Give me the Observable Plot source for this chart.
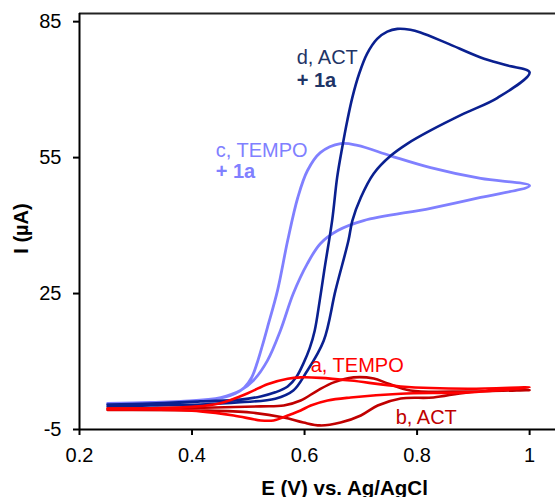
<!DOCTYPE html>
<html>
<head>
<meta charset="utf-8">
<script src="https://cdn.jsdelivr.net/npm/d3@7"></script>
<script src="https://cdn.jsdelivr.net/npm/@observablehq/plot@0.6"></script>
<style>
  html, body { margin: 0; padding: 0; background: #fff; }
  #chart { width: 555px; height: 497px; overflow: hidden; }
</style>
</head>
<body>
<div id="chart"></div>
<script>
// Axis ticks
const xTicks = [0.2, 0.4, 0.6, 0.8, 1];
const xTickLabels = ["0.2", "0.4", "0.6", "0.8", "1"];
const yTicks = [-5, 25, 55, 85];
const yTickLabels = ["-5", "25", "55", "85"];
const xDomain = [0.2, 1.046];
const yDomain = [-5, 86.8];

// c, TEMPO + 1a (forward then reverse scan)
const cX = [0.25,0.326,0.415,0.456,0.477,0.493,0.506,0.516,0.525,0.534,0.552,0.570,0.588,0.605,0.628,0.664,0.694,0.753,0.824,0.913,1.0,
            0.913,0.824,0.705,0.659,0.628,0.605,0.580,0.557,0.534,0.509,0.486,0.451,0.38,0.25];
const cY = [0.74,0.96,1.4,2.06,2.94,4.27,6.47,9.78,13.5,17.5,25.7,36.7,46.2,52.1,56.1,58.1,57.7,55.4,52.8,50.4,48.8,
            46.2,43.8,41.1,38.9,36.0,31.6,25.0,16.8,10.2,5.8,3.6,2.06,1.18,0.5];

// d, ACT + 1a
const dX = [0.25,0.326,0.415,0.486,0.522,0.548,0.570,0.586,0.598,0.609,0.618,0.627,0.635,0.649,0.658,0.667,0.676,0.685,0.697,0.711,0.729,0.747,0.765,0.788,0.806,0.854,0.913,0.961,1.0,
            0.943,0.883,0.824,0.783,0.753,0.723,0.700,0.685,0.678,0.655,0.634,0.602,0.580,0.548,0.486,0.415,0.326,0.25];
const dY = [0.5,0.7,1.2,1.6,2.3,3.2,4.5,6.7,9.6,12.9,16.8,23.5,30.1,41.1,50.7,57.3,63.2,68.3,73.5,77.9,81.2,82.8,83.4,83.2,82.6,80.2,77.1,75.3,73.8,
            68.2,64.7,61.0,58.1,55.4,51.5,46.2,41.1,36.7,25.7,14.6,7.4,3.6,1.8,1.0,0.5,0.3,0.1];

// b, ACT
const bX = [0.25,0.415,0.522,0.563,0.593,0.623,0.652,0.687,0.723,0.748,0.788,0.890,1.0,
            0.890,0.829,0.771,0.730,0.700,0.664,0.628,0.598,0.563,0.504,0.415,0.25];
const bY = [-0.4,-0.2,0.1,0.3,1.4,3.6,5.4,6.5,6.25,5.15,3.6,3.4,3.7,
            3.2,2.06,1.84,0.29,-1.9,-3.46,-4.1,-3.46,-2.35,-1.25,-0.8,-0.7];

// a, TEMPO
const aX = [0.25,0.33,0.40,0.45,0.499,0.534,0.570,0.593,0.628,0.682,0.771,0.890,1.0,
            0.890,0.771,0.682,0.641,0.611,0.593,0.570,0.545,0.522,0.474,0.415,0.33,0.25];
const aY = [-0.4,-0.3,0.0,0.8,3.0,5.0,6.2,6.5,6.4,5.8,4.5,4.0,4.3,
            3.2,2.9,2.06,1.4,0.29,-0.8,-1.9,-3.0,-3.0,-1.9,-1.0,-0.6,-0.6];

// Annotation labels
const labelText   = ["d, ACT", "+ 1a", "c, TEMPO", "+ 1a", "a, TEMPO", "b, ACT"];
const labelX      = [0.586, 0.586, 0.442, 0.442, 0.611, 0.762];
const labelY      = [75.7, 70.6, 55.2, 50.4, 7.6, -3.7];
const labelColor  = ["#1f3466", "#1f3466", "#8080ff", "#8080ff", "#ff0000", "#c00000"];
const labelBold   = [false, true, false, true, false, false];

const seriesColor = {a: "#ff0000", b: "#c00000", c: "#8080ff", d: "#0a2090"};

const toRows = (X, Y) => X.map((x, i) => ({x, y: Y[i]}));
const labels = labelText.map((t, i) => ({t, x: labelX[i], y: labelY[i], c: labelColor[i], b: labelBold[i]}));

const chart = Plot.plot({
  width: 555,
  height: 497,
  marginLeft: 79,
  marginRight: 0,
  marginTop: 13,
  marginBottom: 68,
  style: {fontFamily: "'Liberation Sans', Arial, sans-serif", fontSize: "20px", color: "#000", background: "#fff", overflow: "visible"},
  x: {domain: xDomain},
  y: {domain: yDomain},
  marks: [
    Plot.line(toRows(cX, cY), {x: "x", y: "y", stroke: seriesColor.c, strokeWidth: 2.8, curve: "catmull-rom"}),
    Plot.line(toRows(dX, dY), {x: "x", y: "y", stroke: seriesColor.d, strokeWidth: 2.6, curve: "catmull-rom"}),
    Plot.line(toRows(bX, bY), {x: "x", y: "y", stroke: seriesColor.b, strokeWidth: 2.6, curve: "catmull-rom"}),
    Plot.line(toRows(aX, aY), {x: "x", y: "y", stroke: seriesColor.a, strokeWidth: 2.6, curve: "catmull-rom"}),
    Plot.ruleY([yDomain[0]], {stroke: "#000", strokeWidth: 2}),
    Plot.ruleY([yDomain[1]], {stroke: "#222", strokeWidth: 1.8}),
    Plot.ruleX([xDomain[0]], {stroke: "#000", strokeWidth: 2}),
    Plot.axisX({ticks: xTicks, tickFormat: (d, i) => xTickLabels[i], tickSize: 6, tickPadding: 12, strokeWidth: 2, fontSize: 20, label: null}),
    Plot.axisY({ticks: yTicks, tickFormat: (d, i) => yTickLabels[i], tickSize: 6, tickPadding: 12, strokeWidth: 2, fontSize: 20, label: null}),
    Plot.text(labels, {filter: d => !d.b, x: "x", y: "y", text: "t", fill: "c", textAnchor: "start", lineAnchor: "bottom", fontSize: 20}),
    Plot.text(labels, {filter: d => d.b, x: "x", y: "y", text: "t", fill: "c", fontWeight: "bold", textAnchor: "start", lineAnchor: "bottom", fontSize: 20}),
    Plot.text(["I (µA)"], {frameAnchor: "left", textAnchor: "middle", rotate: -90, dx: -58, dy: 7, fontWeight: "bold", fontSize: 20, fill: "#000"}),
    Plot.text(["E (V) vs. Ag/AgCl"], {frameAnchor: "bottom", textAnchor: "middle", dx: 27, dy: 65, lineAnchor: "bottom", fontWeight: "bold", fontSize: 20.5, fill: "#000"})
  ]
});
document.getElementById("chart").appendChild(chart);
</script>
</body>
</html>
